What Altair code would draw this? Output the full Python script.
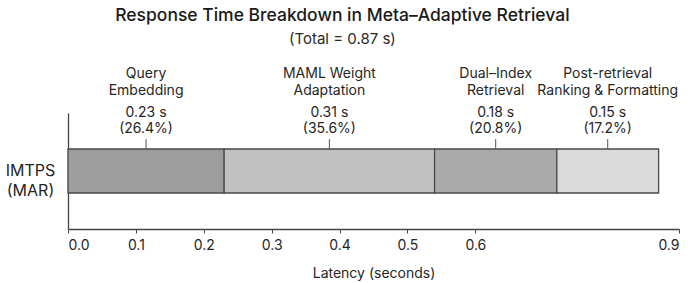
import altair as alt
import pandas as pd

# Stage names (two-line labels), measured durations and share of the total
stages = ["Query\nEmbedding", "MAML Weight\nAdaptation", "Dual–Index\nRetrieval",
          "Post-retrieval\nRanking & Formatting"]
seconds = [0.23, 0.31, 0.18, 0.15]
shares = ["26.4%", "35.6%", "20.8%", "17.2%"]
system = "IMTPS\n(MAR)"
x_ticks = [0.0, 0.1, 0.2, 0.3, 0.4, 0.5, 0.6, 0.9]
grays = ["#9d9d9d", "#c1c1c1", "#aaaaaa", "#dadada"]

FONT = "Inter"
INK = "#262626"

df = pd.DataFrame({"stage": stages, "sec": seconds, "share": shares})
df["system"] = system
df["end"] = df["sec"].cumsum()
df["start"] = df["end"] - df["sec"]
df["mid"] = (df["start"] + df["end"]) / 2
df["value_label"] = df.apply(lambda r: f"{r.sec:.2f} s\n({r.share})", axis=1)

x_scale = alt.Scale(domain=[0, 0.9], nice=False, zero=True)
y_enc = alt.Y("system:N", title=None,
              scale=alt.Scale(paddingInner=0, paddingOuter=0),
              axis=alt.Axis(labelExpr="split(datum.label, '\\n')", ticks=False,
                            labelFontSize=16, labelAlign="center", labelPadding=38,
                            labelLineHeight=20, domainColor="#444", domainWidth=1.3))

base = alt.Chart(df)

bars = base.mark_bar(size=44, stroke="#4a4a4a", strokeWidth=1.3).encode(
    x=alt.X("start:Q", scale=x_scale,
            axis=alt.Axis(values=x_ticks, format=".1f", title="Latency (seconds)",
                          grid=False, labelFontSize=14, titleFontSize=14,
                          titleFontWeight="normal", titlePadding=14, tickSize=4,
                          domainColor="#444", domainWidth=1.3, tickColor="#444",
                          labelPadding=5)),
    x2="end:Q",
    y=y_enc,
    color=alt.Color("stage:N", scale=alt.Scale(domain=stages, range=grays), legend=None),
)

leaders = base.mark_rule(color="#555", strokeWidth=1, yOffset=-22, y2Offset=-32).encode(
    x="mid:Q", y="system:N", y2="system:N",
)

value_text = base.mark_text(lineBreak="\n", baseline="middle", align="center",
                            dy=-58, fontSize=14, lineHeight=16, color=INK,
                            font=FONT).encode(
    x="mid:Q", y="system:N", text="value_label:N",
)

stage_text = base.mark_text(lineBreak="\n", baseline="middle", align="center",
                            dy=-97, fontSize=14, lineHeight=17, color=INK,
                            font=FONT).encode(
    x="mid:Q", y="system:N", text="stage:N",
)

chart = alt.layer(bars, leaders, value_text, stage_text).properties(
    width=611, height=116,
    padding={"left": 5, "right": 5, "top": 6, "bottom": 5},
    title=alt.TitleParams(
        text="Response Time Breakdown in Meta–Adaptive Retrieval",
        subtitle="(Total = 0.87 s)",
        fontSize=17.5, fontWeight=500, subtitleFontSize=15, color="#1a1a1a",
        subtitleColor="#2a2a2a", anchor="middle", frame="bounds", offset=20,
        subtitlePadding=8, font=FONT, subtitleFont=FONT,
    ),
).configure_view(stroke=None).configure_axis(
    labelFont=FONT, titleFont=FONT, labelColor=INK, titleColor=INK,
)

chart.save("out.html", embed_options={"renderer": "svg", "actions": False})
